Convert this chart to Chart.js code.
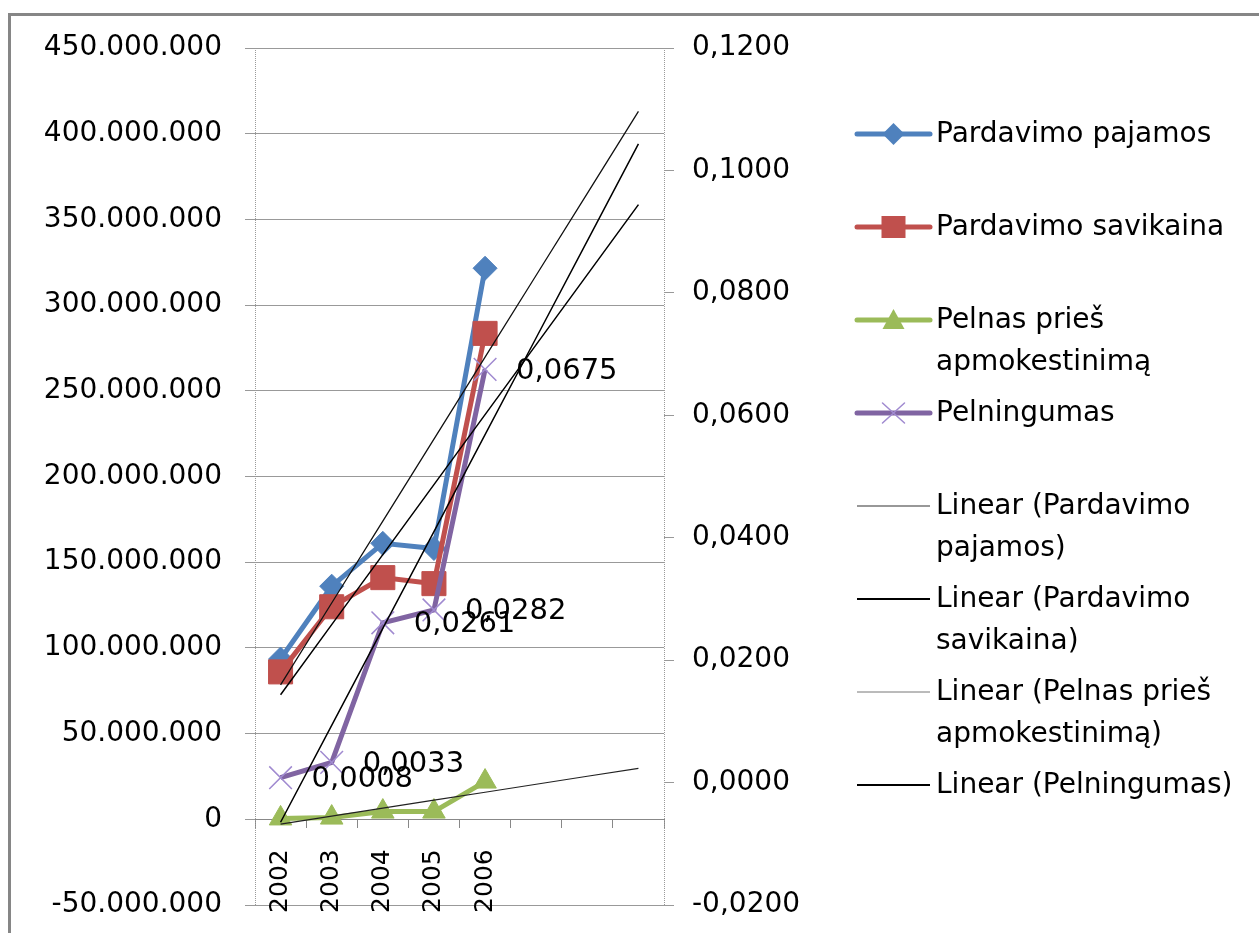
<!DOCTYPE html>
<html><head><meta charset="utf-8">
<script src="https://cdn.jsdelivr.net/npm/chart.js@4.4.1/dist/chart.umd.min.js"></script>
<style>html,body{margin:0;padding:0;background:#fff;overflow:hidden}
#wrap{position:relative;width:1259px;height:933px}</style>
</head><body><div id="wrap"><canvas id="c"></canvas></div>
<script>
// ---- data ----
const categories = ['2002', '2003', '2004', '2005', '2006'];
const forecastSlots = ['', '', ''];
const pardavimoPajamos = [93500000, 136000000, 161000000, 158000000, 321500000];
const pardavimoSavikaina = [86000000, 124000000, 141000000, 137500000, 283500000];
const pelnasPriesApmokestinima = [500000, 1000000, 4500000, 4500000, 22000000];
const pelningumas = [0.0008, 0.0033, 0.0261, 0.0282, 0.0675];
const leftAxisTicks = [-50000000, 0, 50000000, 100000000, 150000000, 200000000, 250000000, 300000000, 350000000, 400000000, 450000000];
const rightAxisTicks = [-0.02, 0, 0.02, 0.04, 0.06, 0.08, 0.10, 0.12];
const seriesNames = ['Pardavimo pajamos', 'Pardavimo savikaina', 'Pelnas prieš apmokestinimą', 'Pelningumas'];
const legendLines = [
  ['Pardavimo pajamos'],
  ['Pardavimo savikaina'],
  ['Pelnas prieš', 'apmokestinimą'],
  ['Pelningumas'],
  ['Linear (Pardavimo', 'pajamos)'],
  ['Linear (Pardavimo', 'savikaina)'],
  ['Linear (Pelnas prieš', 'apmokestinimą)'],
  ['Linear (Pelningumas)']
];

// ---- helpers ----
const allLabels = categories.concat(forecastSlots);
function linearTrend(values, total) {
  const n = values.length; let sx = 0, sy = 0, sxy = 0, sxx = 0;
  values.forEach((v, i) => { sx += i; sy += v; sxy += i * v; sxx += i * i; });
  const b = (n * sxy - sx * sy) / (n * sxx - sx * sx);
  const a = (sy - b * sx) / n;
  return Array.from({length: total}, (_, i) => a + b * i);
}
function fmtLeft(v) {
  const s = Math.round(Math.abs(v)).toString().replace(/\B(?=(\d{3})+(?!\d))/g, '.');
  return (v < 0 ? '-' : '') + s;
}
function fmtRight(v) {
  const r = Math.round(v * 10000) / 10000;
  return (r < 0 ? '-' : '') + Math.abs(r).toFixed(4).replace('.', ',');
}

const BLUE = '#4F81BD', RED = '#C0504D', GREEN = '#9BBB59', PURPLE = '#8064A2', PURPLE_M = '#A08AD0';
const FONT = '"DejaVu Sans", Verdana, sans-serif';
const N = allLabels.length;

// ---- plugins ----
const frame = {
  id: 'frame',
  beforeDraw(chart) {
    const ctx = chart.ctx;
    ctx.save();
    ctx.fillStyle = '#fff';
    ctx.fillRect(0, 0, chart.width, chart.height);
    ctx.strokeStyle = '#868686';
    ctx.lineWidth = 3;
    ctx.strokeRect(9.5, 14.5, 1400, 1000);
    ctx.restore();
  },
  beforeDatasetsDraw(chart) {
    const {left, right, top, bottom} = chart.chartArea;
    const ctx = chart.ctx;
    ctx.save();
    ctx.strokeStyle = '#9a9a9a';
    ctx.lineWidth = 1;
    ctx.setLineDash([1, 1]);
    ctx.beginPath();
    ctx.moveTo(Math.round(left) + 0.5, top); ctx.lineTo(Math.round(left) + 0.5, bottom);
    ctx.moveTo(Math.round(right) + 0.5, top); ctx.lineTo(Math.round(right) + 0.5, bottom);
    ctx.stroke();
    ctx.restore();
  }
};

const dataLabels = {
  id: 'dataLabels',
  afterDatasetsDraw(chart) {
    const idx = chart.data.datasets.findIndex(d => d.label === seriesNames[3]);
    const meta = chart.getDatasetMeta(idx);
    const ctx = chart.ctx;
    ctx.save();
    ctx.font = '29px ' + FONT;
    ctx.fillStyle = '#000';
    ctx.textAlign = 'left';
    ctx.textBaseline = 'middle';
    meta.data.forEach((pt, i) => {
      if (pelningumas[i] == null) return;
      ctx.fillText(fmtRight(pelningumas[i]), pt.x + 31, pt.y + 2);
    });
    ctx.restore();
  }
};

function drawMarker(ctx, kind, x, y) {
  ctx.save();
  if (kind === 'diamond') {
    ctx.fillStyle = BLUE;
    ctx.beginPath(); ctx.moveTo(x, y - 11); ctx.lineTo(x + 11, y); ctx.lineTo(x, y + 11); ctx.lineTo(x - 11, y); ctx.closePath(); ctx.fill();
  } else if (kind === 'square') {
    ctx.fillStyle = RED; ctx.fillRect(x - 12, y - 11, 24, 22);
  } else if (kind === 'triangle') {
    ctx.fillStyle = GREEN;
    ctx.beginPath(); ctx.moveTo(x, y - 11); ctx.lineTo(x + 11, y + 9); ctx.lineTo(x - 11, y + 9); ctx.closePath(); ctx.fill();
  } else if (kind === 'cross') {
    ctx.strokeStyle = PURPLE_M; ctx.lineWidth = 1.5;
    ctx.beginPath(); ctx.moveTo(x - 11, y - 10); ctx.lineTo(x + 11, y + 10); ctx.moveTo(x + 11, y - 10); ctx.lineTo(x - 11, y + 10); ctx.stroke();
  }
  ctx.restore();
}

const customLegend = {
  id: 'customLegend',
  afterDraw(chart) {
    const ctx = chart.ctx;
    const symbols = [
      {color: BLUE, w: 5, m: 'diamond'},
      {color: RED, w: 5, m: 'square'},
      {color: GREEN, w: 5, m: 'triangle'},
      {color: PURPLE, w: 5, m: 'cross'},
      {color: '#333', w: 1.2},
      {color: '#000', w: 2},
      {color: '#777', w: 1},
      {color: '#000', w: 2}
    ];
    const x0 = 857, x1 = 930, tx = 936, lh = 42, step = 93;
    let y = 134;
    ctx.save();
    ctx.font = '28px ' + FONT;
    ctx.textAlign = 'left';
    ctx.textBaseline = 'middle';
    legendLines.forEach((lines, i) => {
      const s = symbols[i];
      ctx.strokeStyle = s.color; ctx.lineWidth = s.w; ctx.lineCap = s.m ? 'round' : 'butt';
      ctx.beginPath(); ctx.moveTo(x0, y); ctx.lineTo(x1, y); ctx.stroke();
      if (s.m) drawMarker(ctx, s.m, (x0 + x1) / 2, y);
      ctx.fillStyle = '#000';
      lines.forEach((t, k) => ctx.fillText(t, tx, y + 1 + k * lh));
      y += step;
    });
    ctx.restore();
  }
};

// ---- chart ----
const trendStyle = (data, axis, color, w, order, name) => ({
  label: name, data, yAxisID: axis, borderColor: color, borderWidth: w,
  pointRadius: 0, pointHoverRadius: 0, fill: false, tension: 0, order
});
function noPad(scale) { scale.paddingTop = 0; scale.paddingBottom = 0; }

new Chart(document.getElementById('c'), {
  type: 'line',
  data: {
    labels: allLabels,
    datasets: [
      {label: seriesNames[0], data: pardavimoPajamos, yAxisID: 'y', borderColor: BLUE, backgroundColor: BLUE,
       borderWidth: 5, pointStyle: 'rectRot', pointRadius: 12, pointBorderWidth: 1, pointBackgroundColor: BLUE, pointBorderColor: BLUE, tension: 0, order: 8},
      {label: seriesNames[1], data: pardavimoSavikaina, yAxisID: 'y', borderColor: RED, backgroundColor: RED,
       borderWidth: 5, pointStyle: 'rect', pointRadius: 17, pointBorderWidth: 1, pointBackgroundColor: RED, pointBorderColor: RED, tension: 0, order: 7},
      {label: seriesNames[2], data: pelnasPriesApmokestinima, yAxisID: 'y', borderColor: GREEN, backgroundColor: GREEN,
       borderWidth: 5, pointStyle: 'triangle', pointRadius: 13, pointBorderWidth: 1, pointBackgroundColor: GREEN, pointBorderColor: GREEN, tension: 0, order: 6},
      {label: seriesNames[3], data: pelningumas, yAxisID: 'y1', borderColor: PURPLE, backgroundColor: PURPLE,
       borderWidth: 5, pointStyle: 'crossRot', pointRadius: 16, pointBorderWidth: 1.5, pointBorderColor: PURPLE_M, tension: 0, order: 5},
      trendStyle(linearTrend(pardavimoPajamos, N), 'y', '#111', 1.3, 4, 'Linear (' + seriesNames[0] + ')'),
      trendStyle(linearTrend(pardavimoSavikaina, N), 'y', '#000', 1.5, 3, 'Linear (' + seriesNames[1] + ')'),
      trendStyle(linearTrend(pelnasPriesApmokestinima, N), 'y', '#222', 1.2, 2, 'Linear (' + seriesNames[2] + ')'),
      trendStyle(linearTrend(pelningumas, N), 'y1', '#000', 1.5, 1, 'Linear (' + seriesNames[3] + ')')
    ]
  },
  options: {
    responsive: true,
    maintainAspectRatio: false,
    animation: false,
    events: [],
    layout: {padding: {left: 0, right: 445, top: 48, bottom: 28}},
    plugins: {legend: {display: false}, tooltip: {enabled: false}},
    scales: {
      x: {
        type: 'category',
        position: {y: 0},
        offset: true,
        afterFit(scale) { scale.height = 0; },
        grid: {display: true, drawOnChartArea: false, drawTicks: true, tickLength: 8, color: '#888', offset: true},
        border: {display: true, color: '#888'},
        ticks: {maxRotation: 90, minRotation: 90, padding: 22, color: '#000', font: {family: FONT, size: 25}, autoSkip: false}
      },
      y: {
        type: 'linear', position: 'left',
        min: leftAxisTicks[0], max: leftAxisTicks[leftAxisTicks.length - 1],
        afterBuildTicks(scale) { scale.ticks = leftAxisTicks.map(v => ({value: v})); },
        afterFit(scale) { scale.width = 255; noPad(scale); },
        grid: {color: '#999', lineWidth: 1, tickLength: 10, drawTicks: true},
        border: {display: false},
        ticks: {padding: 23, color: '#000', font: {family: FONT, size: 28}, callback: v => fmtLeft(v)}
      },
      y1: {
        type: 'linear', position: 'right',
        min: rightAxisTicks[0], max: rightAxisTicks[rightAxisTicks.length - 1],
        afterBuildTicks(scale) { scale.ticks = rightAxisTicks.map(v => ({value: v})); },
        afterFit(scale) { scale.width = 150; noPad(scale); },
        grid: {drawOnChartArea: false, drawTicks: true, tickLength: 10, color: '#999'},
        border: {display: false},
        ticks: {padding: 18, color: '#000', font: {family: FONT, size: 28}, callback: v => fmtRight(v)}
      }
    }
  },
  plugins: [frame, dataLabels, customLegend]
});
</script>
</body></html>
